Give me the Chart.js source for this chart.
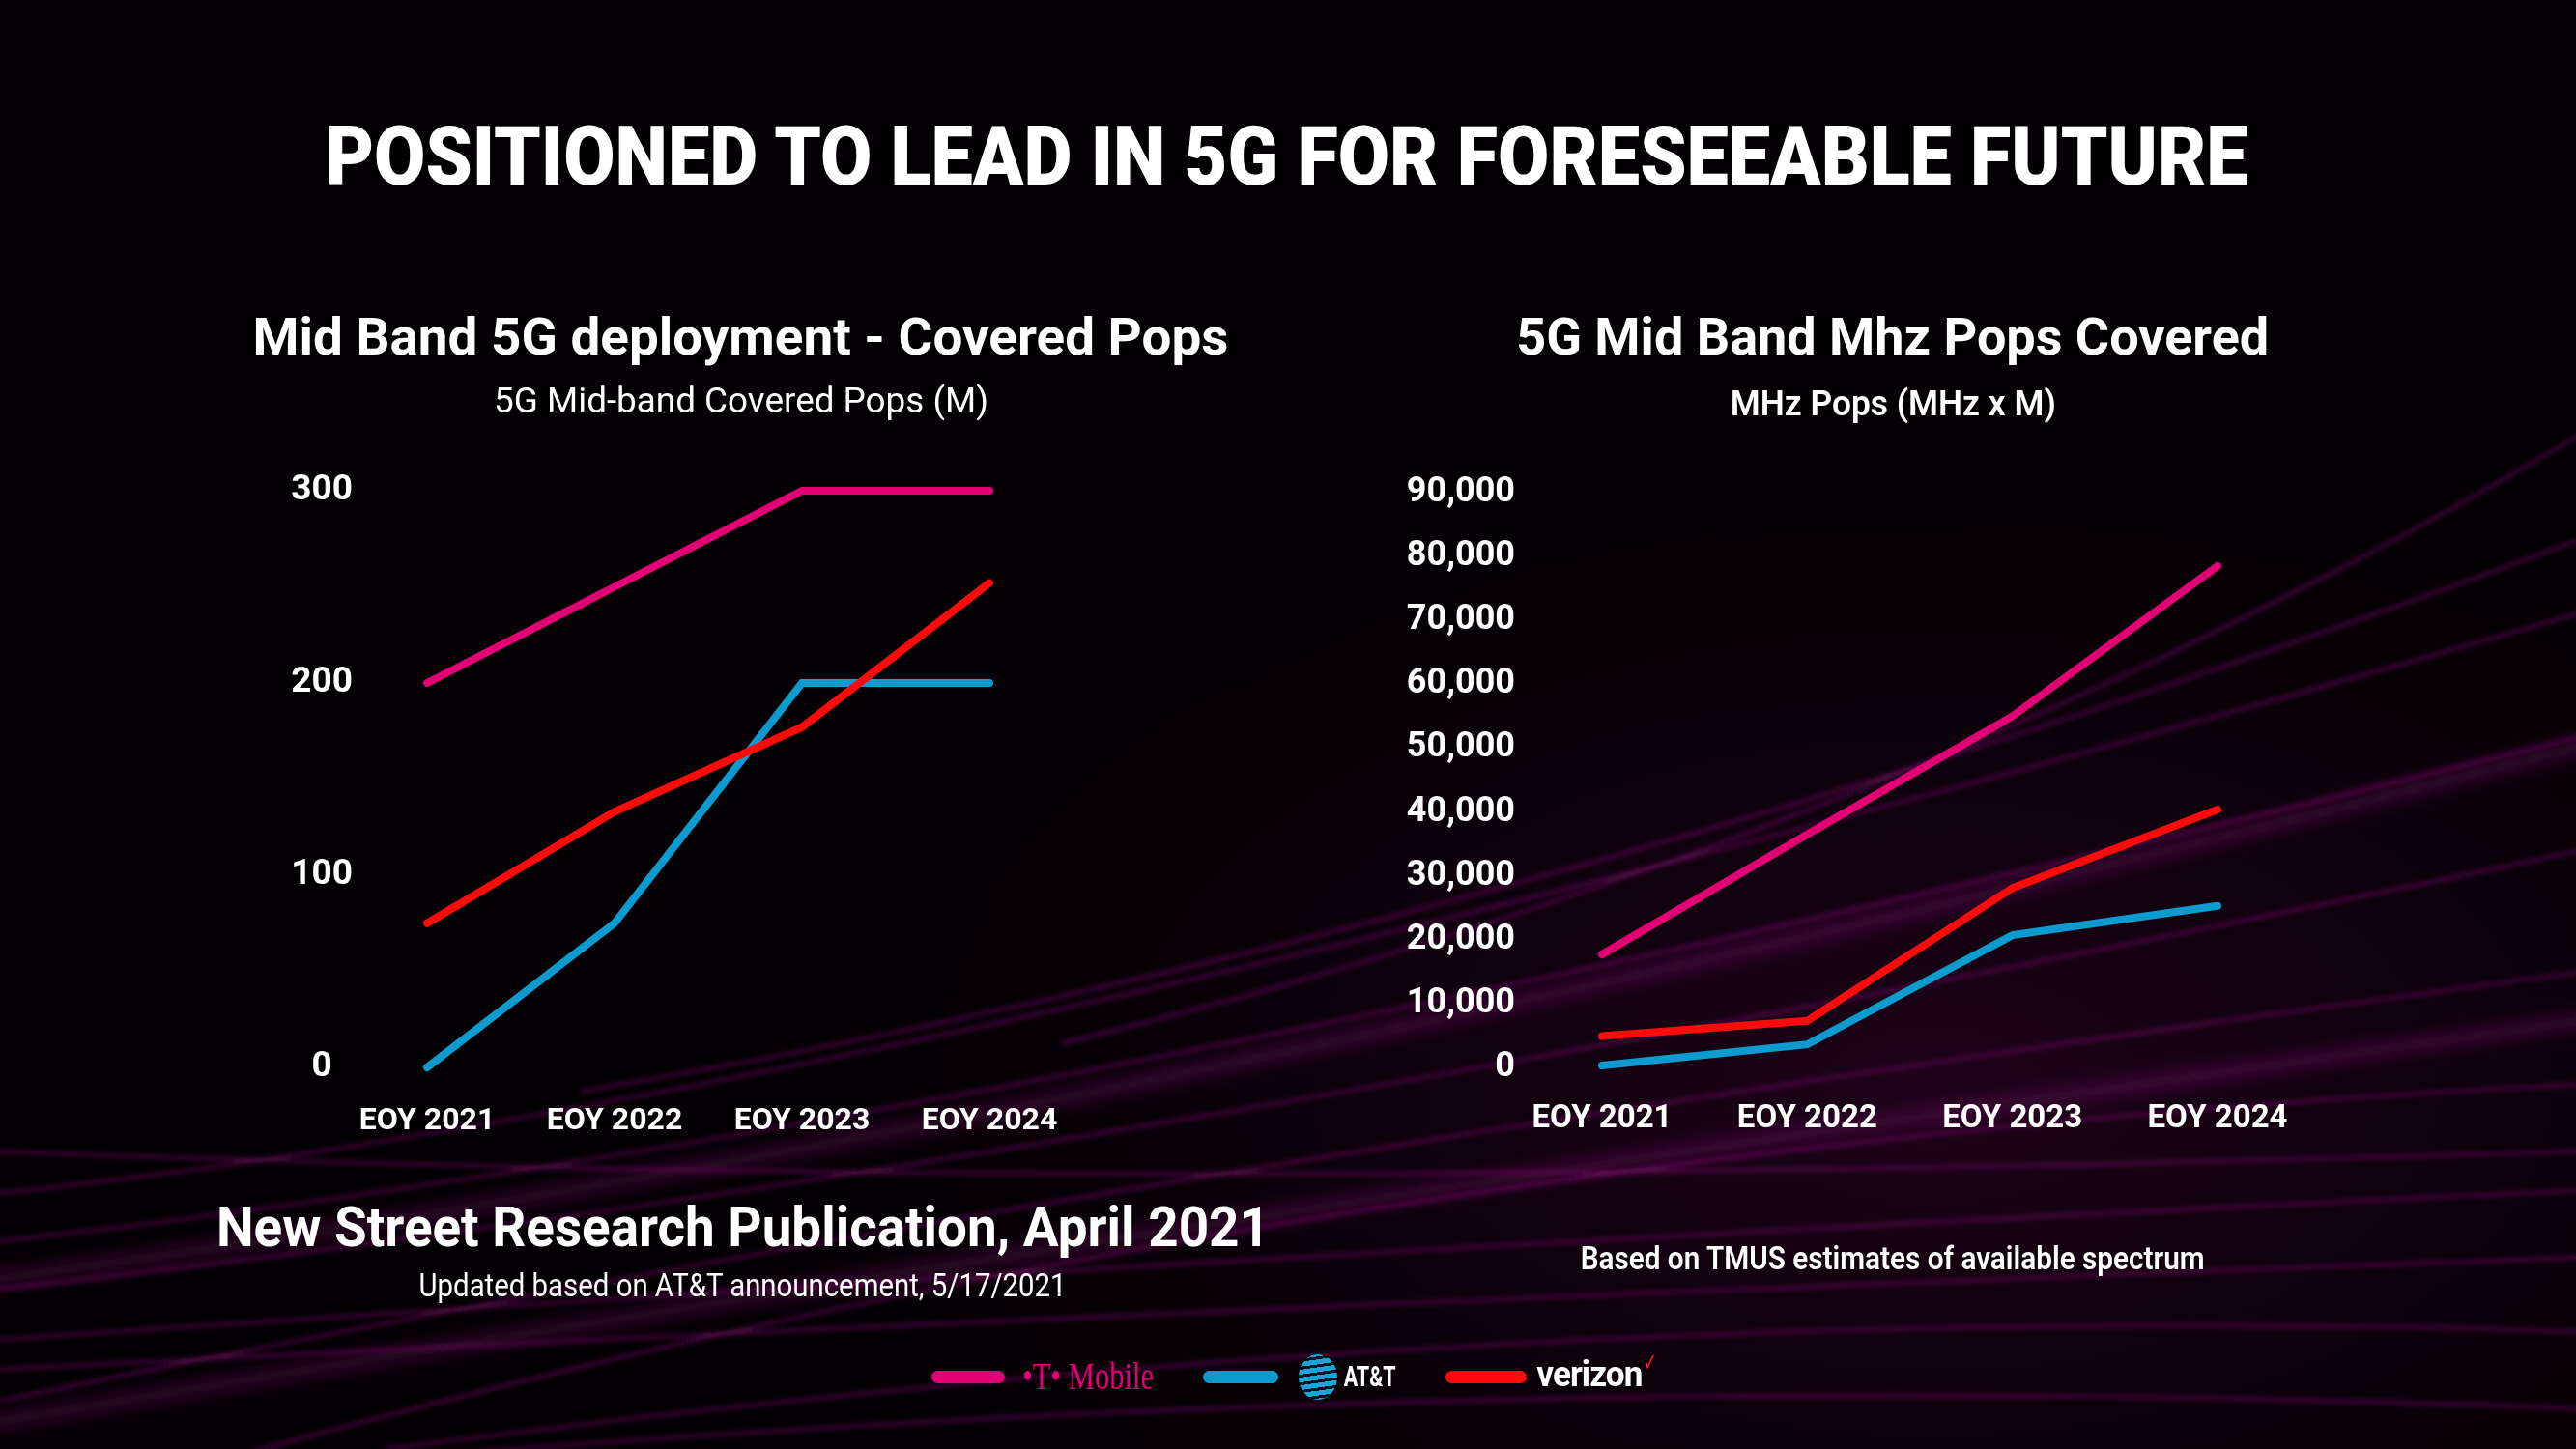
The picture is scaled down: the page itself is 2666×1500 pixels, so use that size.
<!DOCTYPE html>
<html>
<head>
<meta charset="utf-8">
<script src="https://cdn.jsdelivr.net/npm/chart.js@4.4.1/dist/chart.umd.min.js"></script>
<style>
html,body{margin:0;padding:0;background:#000;}
#stage{position:relative;width:2666px;height:1500px;overflow:hidden;background:#030003;font-family:Roboto,'Noto Sans',sans-serif;color:#fff;}
#bg{position:absolute;left:0;top:0;width:2666px;height:1500px;}
.t{position:absolute;white-space:nowrap;line-height:1;transform-origin:center center;}
.cv{position:absolute;}
.sw{position:absolute;height:13px;border-radius:7px;}
</style>
</head>
<body>
<div id="stage">
  <svg id="bg" viewBox="0 0 2666 1500" xmlns="http://www.w3.org/2000/svg">
    <defs>
      <filter id="glow" x="-10%" y="-10%" width="120%" height="120%"><feGaussianBlur stdDeviation="2.5"/></filter>
      <filter id="glow2" x="-10%" y="-10%" width="120%" height="120%"><feGaussianBlur stdDeviation="9"/></filter>
      <radialGradient id="rg" cx="0.75" cy="0.75" r="0.6">
        <stop offset="0" stop-color="#2a0424" stop-opacity="0.7"/>
        <stop offset="1" stop-color="#000" stop-opacity="0"/>
      </radialGradient>
    </defs>
    <rect x="0" y="0" width="2666" height="1500" fill="url(#rg)"/>
    <g fill="none" stroke="#a0148c" filter="url(#glow2)" stroke-opacity="0.35" stroke-width="14">
      <path d="M -50 1330 Q 1100 1180 2720 760"/>
      <path d="M -50 1480 Q 1300 1250 2720 1050"/>
    </g>
    <g fill="none" stroke="#b0189a" filter="url(#glow)" stroke-opacity="0.45" stroke-width="3">
      <path d="M -50 1240 Q 900 1150 2720 620"/>
      <path d="M -50 1290 Q 1000 1180 2720 750"/>
      <path d="M -50 1340 Q 1100 1215 2720 870"/>
      <path d="M 0 1450 Q 1200 1200 2720 1000"/>
      <path d="M 200 1520 Q 1400 1180 2720 1120"/>
      <path d="M -50 1190 Q 1200 1240 2720 1190"/>
      <path d="M -50 1420 Q 1300 1350 2720 1300"/>
      <path d="M 300 1520 Q 1500 1410 2720 1460"/>
      <path d="M 600 1130 Q 1600 960 2720 540"/>
      <path d="M 1100 1080 Q 2000 860 2720 420"/>
      <path d="M -50 1390 Q 1400 1290 2720 1230"/>
      <path d="M 400 1500 Q 1600 1340 2720 1380"/>
    </g>
  </svg>

  <div class="t" id="mainTitle" data-cx="1332" data-cy="162" data-w="1990" style="font-size:86px;font-weight:900;">POSITIONED TO LEAD IN 5G FOR FORESEEABLE FUTURE</div>

  <div class="t" data-cx="767" data-cy="349" data-w="1010" style="font-size:54px;font-weight:700;">Mid Band 5G deployment - Covered Pops</div>
  <div class="t" data-cx="767" data-cy="414" data-w="512" style="font-size:37px;font-weight:400;">5G Mid-band Covered Pops (M)</div>

  <div class="t" data-cx="1959" data-cy="349" data-w="779" style="font-size:54px;font-weight:700;">5G Mid Band Mhz Pops Covered</div>
  <div class="t" data-cx="1959" data-cy="417" data-w="337" style="font-size:37px;font-weight:600;">MHz Pops (MHz x M)</div>

  <div class="t" data-cx="769" data-cy="1270" data-w="1090" style="font-size:58px;font-weight:700;">New Street Research Publication, April 2021</div>
  <div class="t" data-cx="769" data-cy="1330" data-w="670" style="font-size:33px;font-weight:400;">Updated based on AT&amp;T announcement, 5/17/2021</div>

  <div class="t" data-cx="1959" data-cy="1302" data-w="646" style="font-size:33px;font-weight:600;">Based on TMUS estimates of available spectrum</div>

  <canvas id="c1" class="cv" width="850" height="760" style="left:250px;top:460px;width:850px;height:760px;"></canvas>
  <canvas id="c2" class="cv" width="1000" height="760" style="left:1420px;top:460px;width:1000px;height:760px;"></canvas>

  <!-- legend -->
  <div class="sw" style="left:964px;top:1419px;width:76px;background:#E20074;"></div>
  <div class="t" data-cx="1126" data-cy="1425" data-w="136" style="font-size:40px;color:#E20074;font-family:'Liberation Serif',serif;">&#x2022;T&#x2022; Mobile</div>
  <div class="sw" style="left:1245px;top:1419px;width:78px;background:#0C9BCF;"></div>
  <div style="position:absolute;left:1344px;top:1402px;width:40px;height:47px;border-radius:50%;background:repeating-linear-gradient(172deg,#1aa3d8 0px,#1aa3d8 5px,#04121c 5px,#04121c 8px);"></div>
  <div class="t" data-cx="1418" data-cy="1425" data-w="54" style="font-size:30px;font-weight:700;">AT&amp;T</div>
  <div class="sw" style="left:1496px;top:1419px;width:84px;background:#FF0A0A;"></div>
  <div class="t" data-cx="1645" data-cy="1423" data-w="109" style="font-size:36px;font-weight:700;letter-spacing:-1px;">verizon</div>
  <div class="t" data-cx="1708" data-cy="1410" data-w="14" style="font-size:26px;font-weight:400;color:#ff1a1a;">&#x2713;</div>
</div>

<script>
// ---- Data ----
const categories = ['EOY 2021', 'EOY 2022', 'EOY 2023', 'EOY 2024'];
const seriesNames = ['T-Mobile', 'AT&T', 'Verizon'];

// Left chart: 5G Mid-band Covered Pops (M)
const popsTMobile = [200, 250, 300, 300];
const popsATT     = [0, 75, 200, 200];
const popsVerizon = [75, 133, 177, 252];
const popsTicks   = [0, 100, 200, 300];

// Right chart: MHz Pops (MHz x M)
const mhzTMobile = [17700, 36500, 55000, 78500];
const mhzATT     = [300, 3600, 20700, 25300];
const mhzVerizon = [4900, 7300, 28100, 40400];
const mhzTicks   = [0, 10000, 20000, 30000, 40000, 50000, 60000, 70000, 80000, 90000];

const colTMobile = '#E20074';
const colATT = '#0C9BCF';
const colVerizon = '#FF0A0A';

// ---- fit HTML texts to measured widths ----
document.querySelectorAll('.t').forEach(el => {
  const cx = +el.dataset.cx, cy = +el.dataset.cy, w = +el.dataset.w;
  const r = el.getBoundingClientRect();
  const k = w / r.width;
  el.style.left = (cx - r.width / 2) + 'px';
  el.style.top = (cy - r.height / 2) + 'px';
  el.style.transform = 'scaleX(' + k + ')';
});

Chart.defaults.font.family = 'Roboto';
Chart.defaults.color = '#ffffff';

function ds(label, data, color) {
  return {
    label, data,
    borderColor: color, backgroundColor: color,
    borderWidth: 8, pointRadius: 0, pointHoverRadius: 0,
    tension: 0, clip: false, borderCapStyle: 'round', borderJoinStyle: 'miter'
  };
}

function makeChart(id, cfg) {
  return new Chart(document.getElementById(id), {
    type: 'line',
    data: {
      labels: categories,
      datasets: [
        ds(seriesNames[2], cfg.verizon, colVerizon),
        ds(seriesNames[1], cfg.att, colATT),
        ds(seriesNames[0], cfg.tmobile, colTMobile)
      ]
    },
    options: {
      responsive: false,
      animation: false,
      devicePixelRatio: 1,
      layout: { padding: { left: 0, right: cfg.padRight, top: cfg.padTop, bottom: 0 } },
      plugins: { legend: { display: false }, tooltip: { enabled: false }, title: { display: false } },
      scales: {
        x: {
          type: 'category',
          offset: false,
          grid: { display: false, drawTicks: false },
          border: { display: false },
          ticks: { font: { size: cfg.xFont, weight: '700' }, color: '#fff', padding: cfg.xPad, maxRotation: 0, autoSkip: false },
          afterFit: s => { s.height = cfg.xHeight; s.paddingLeft = 0; s.paddingRight = 0; }
        },
        y: {
          min: cfg.min, max: cfg.max,
          grid: { display: false, drawTicks: false },
          border: { display: false },
          afterBuildTicks: s => { s.ticks = cfg.ticks.map(v => ({ value: v })); },
          ticks: {
            font: { size: cfg.yFont, weight: '700' }, color: '#fff',
            padding: cfg.yPad, crossAlign: cfg.crossAlign,
            callback: v => Number(v).toLocaleString('en-US')
          },
          afterFit: s => { s.width = cfg.yWidth; s.paddingTop = 0; s.paddingBottom = 0; }
        }
      }
    }
  });
}

makeChart('c1', {
  tmobile: popsTMobile, att: popsATT, verizon: popsVerizon,
  min: 0, max: 300, ticks: popsTicks,
  padRight: 76, padTop: 48, xHeight: 115, yWidth: 192,
  xFont: 32, yFont: 37, xPad: 37, yPad: 77, crossAlign: 'center'
});

makeChart('c2', {
  tmobile: mhzTMobile, att: mhzATT, verizon: mhzVerizon,
  min: 0, max: 90000, ticks: mhzTicks,
  padRight: 125, padTop: 50, xHeight: 115, yWidth: 238,
  xFont: 33, yFont: 36, xPad: 34, yPad: 90, crossAlign: 'near'
});
</script>
</body>
</html>
